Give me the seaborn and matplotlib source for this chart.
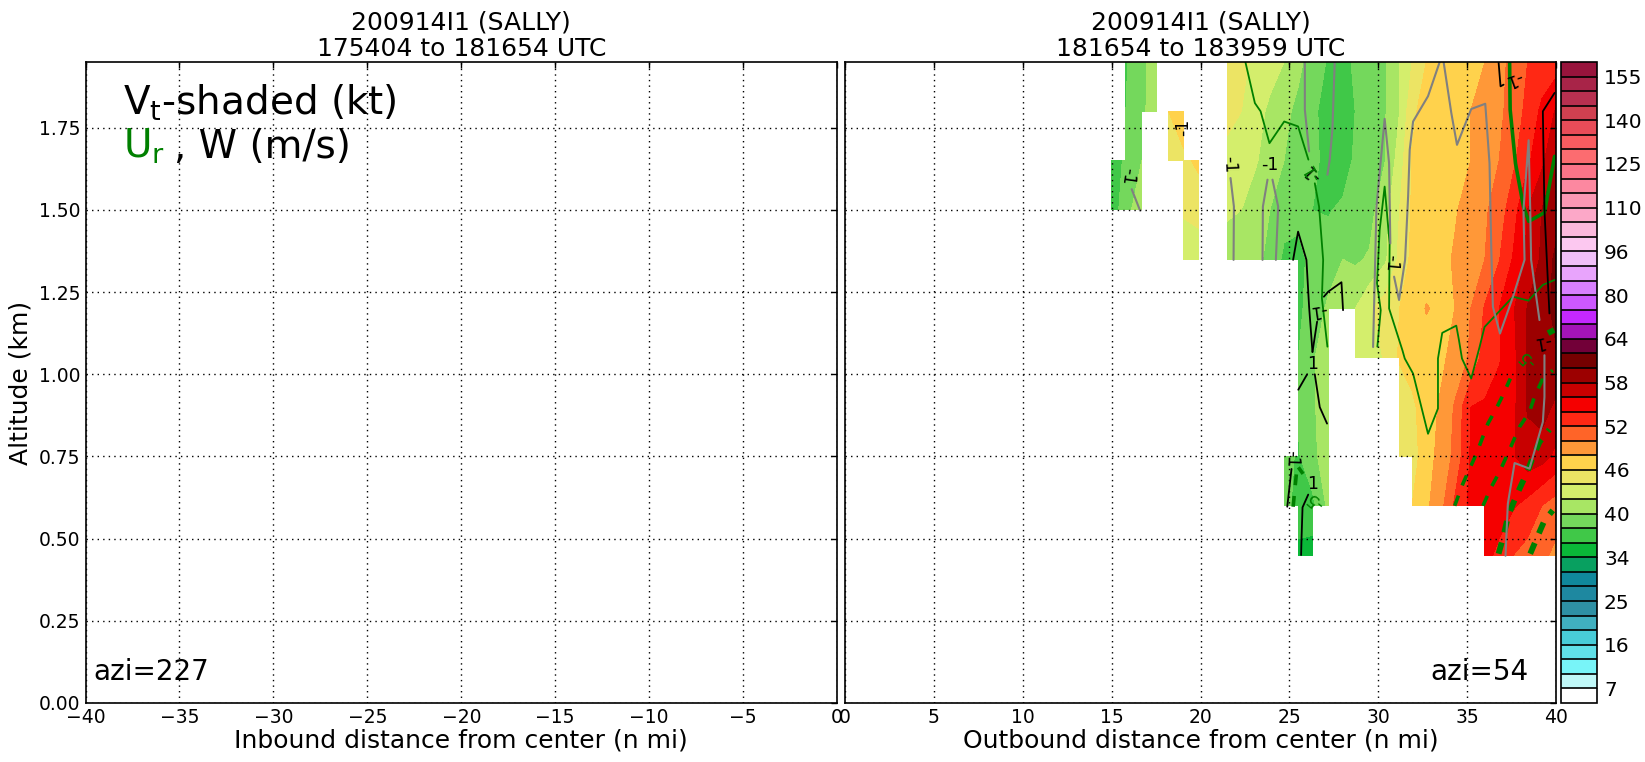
import matplotlib
matplotlib.use("Agg")
import matplotlib.pyplot as plt
import numpy as np
import seaborn as sns

n = np.nan

# distance (n mi) and altitude (km) of the Vt grid, outbound leg
dist = [15.0, 15.8, 16.7, 17.5, 18.2, 19.05, 19.9, 20.7, 21.5, 22.3, 23.1, 23.9, 24.7, 25.5, 26.3, 27.2,
        28.0, 28.7, 29.5, 30.4, 31.2, 31.9, 32.7, 33.5, 34.3, 35.2, 36.0, 36.8, 37.6, 38.4, 39.2, 40.0]
alt = [0.45, 0.60, 0.75, 0.90, 1.05, 1.20, 1.35, 1.50, 1.65, 1.80, 1.95]

# Vt (kt), one list per altitude
vt_045 = [n]*13 + [35.5, 35] + [n]*11 + [54.5, 53.6, 52, 51.3, 50.5, 49.5]
vt_060 = [n]*12 + [39, 37, 37.5, 40.5] + [n]*5 + [46, 47.6, 49.3, 52.3, 54.5, 55, 54.8, 54.2, 53.3, 52, 51]
vt_075 = [n]*12 + [38.5, 37.8, 39.3, 41.5] + [n]*4 + [44.1, 45, 47.2, 48.6, 50.5, 54.2, 55, 55.3, 55.8, 57.2, 56.8, 55.5]
vt_090 = [n]*13 + [38.2, 39.7, 41.2] + [n]*4 + [44.2, 45.5, 47.2, 48.2, 50.2, 54, 54.2, 55, 55.5, 58.2, 59, 57.5]
vt_105 = [n]*13 + [38, 39.8, 41, n, 42, 43, 44.2, 46.3, 47, 47.3, 47.6, 48.6, 50.3, 53, 53.8, 55.4, 58.3, 59.3, 59.8]
vt_120 = [n]*13 + [37.5, 39, 40.3, 41, 42, 43.7, 45, 46, 47, 48.1, 47.7, 48, 50, 52.2, 54, 55.8, 58.1, 59.3, 60.5]
vt_135 = [n]*5 + [43, 43, n, 41, 40.5, 40.2, 39.8, 37.5, 37.5, 38.5, 39.2, 40, 39.7, 40.2, 41.7, 44.5, 46.5, 47.2,
                  47.4, 48.2, 49.2, 50, 51.9, 54.2, 56.5, 58.3, 60.5]
vt_150 = [37, 39, 41.8, n, n, 44.2, 44.6, n, 42.3, 42, 41, 40, 39, 38.5, 38, 37.8, 38.5, 39, 39.3, 41.3, 44, 46.2,
          47, 47.2, 47.8, 48.8, 49.7, 51, 53.2, 56, 58, 59]
vt_165 = [36.5, 38.5, 40, n, 45, 45.5, 46.5, n, 43.5, 43, 42.2, 41, 40, 39, 38.3, 37.6, 36.5, 38.5, 39, 40, 43, 46.2,
          47, 47, 47.3, 48, 49, 50, 51.6, 53.6, 55.5, 58]
vt_180 = [n, 38, 39.6, 41, 46, 47.5, n, n, 44.5, 44, 43, 41.5, 40.5, 39.5, 38.5, 37, 37, 38, 39, 39.9, 42, 45.5,
          47, 47, 47.4, 48, 48.8, 49.6, 50.8, 52.6, 54.4, 56.2]
vt_195 = [n, 37.8, 39.5, 41, n, n, n, n, 45.5, 44.5, 43.5, 43, 42, 40.5, 39, 37.8, 37, 38.5, 39, 39.8, 42, 44,
          46, 47, 47, 47.5, 48, 49.5, 50.5, 52, 52.8, 53]

levels = [4, 7, 10, 13, 16, 19, 22, 25, 28, 31, 34, 36, 38, 40, 42, 44, 46, 48, 50, 52, 54, 56, 58, 60, 62, 64,
          69, 75, 80, 85, 91, 96, 101, 105, 110, 115, 120, 125, 130, 135, 140, 145, 150, 155, 160]
cbar_ticks = [7, 16, 25, 34, 40, 46, 52, 58, 64, 80, 96, 110, 125, 140, 155]
colors = ["#ffffff", "#c0f8f8", "#78f4f8", "#60e0e8", "#48ccd8", "#40b0c0", "#2e90a4", "#1e88a0", "#10889c",
          "#08a060", "#0ab838", "#40c848", "#74d85c", "#a8e664", "#d4ee6c", "#ece464", "#ffd24c", "#ff9838",
          "#ff6428", "#ff2814", "#f50000", "#c80000", "#9c0000", "#760000", "#720038", "#a414b8", "#c428ff",
          "#cc58ff", "#d880ff", "#e8a4fc", "#f0c0f8", "#fcc8f0", "#fcb8dc", "#fca8c8", "#fc98b4", "#fc88a0",
          "#fc7488", "#fc6c70", "#f85c60", "#e84c58", "#d04050", "#b83050", "#a82448", "#98143c"]

# Ur contours, thin solid
ur_thin = [
    ([22.53, 23.06, 23.38, 23.88, 24.71, 25.49, 26.07], [1.949, 1.825, 1.80, 1.703, 1.769, 1.754, 1.653]),
    ([26.43, 26.67, 26.90, 26.83, 27.14], [1.581, 1.510, 1.348, 1.231, 1.084]),
    ([29.95, 30.14, 29.93, 30.08, 30.36, 30.64, 30.61, 31.36, 31.49, 31.96, 32.8, 33.36, 33.36, 33.6, 34.39, 34.54,
      34.71, 35.23, 35.7, 35.98, 37.58, 38.45, 39.26, 39.92],
     [1.084, 1.195, 1.277, 1.439, 1.571, 1.398, 1.2, 1.073, 1.048, 1.002, 0.819, 0.896, 1.048, 1.126, 1.148, 1.104,
      1.048, 0.987, 1.083, 1.144, 1.236, 1.224, 1.272, 1.287]),
]
# Ur thick solid
ur_thick = [
    ([37.39, 37.42, 37.72, 38.17, 38.47, 39.35, 39.92], [1.949, 1.805, 1.642, 1.51, 1.465, 1.492, 1.663]),
]
# Ur dashed, thin dashes then wider dashes
ur_dash = [
    ([34.3, 34.76, 35.52, 36.17, 36.64, 37.01, 37.43], [0.6, 0.667, 0.758, 0.85, 0.896, 0.936, 0.987]),
    ([35.89, 36.36, 36.82, 37.2, 37.95, 38.5, 38.79, 39.26, 39.82],
     [0.6, 0.657, 0.703, 0.748, 0.84, 0.885, 0.931, 0.987, 1.012]),
    ([25.21, 25.44, 25.77], [0.597, 0.722, 0.697]),
]
ur_dash_wide = [
    ([36.77, 37.05, 37.29, 37.58, 37.95, 38.36, 38.7, 39.07, 39.63],
     [0.454, 0.509, 0.565, 0.606, 0.652, 0.7, 0.748, 0.794, 0.832]),
    ([38.55, 38.98, 39.35, 39.82], [0.454, 0.509, 0.555, 0.586]),
    ([39.55, 39.9], [1.125, 1.135]),
]
# W contours, positive black
w_pos = [
    ([25.21, 25.49, 25.96, 26.11, 26.3], [1.348, 1.434, 1.348, 1.205, 1.068]),
    ([26.3, 26.56], [1.068, 1.16]),
    ([26.94, 27.18, 27.93, 28.02], [1.236, 1.251, 1.28, 1.195]),
    ([26.0, 25.5], [1.0, 0.953]),
    ([26.43, 26.71, 27.12], [1.0, 0.90, 0.85]),
    ([25.12, 24.88], [0.712, 0.597]),
    ([26.06, 25.74, 25.68, 25.66], [0.634, 0.595, 0.494, 0.45]),
    ([36.77, 36.88, 37.05], [1.949, 1.876, 1.881]),
    ([39.92, 39.26, 39.35, 39.63], [1.856, 1.8, 1.5, 1.185]),
]
# W contours, negative gray
w_neg = [
    ([25.87, 25.87, 26.11], [1.949, 1.805, 1.678]),
    ([27.55, 27.42, 27.27, 27.14], [1.949, 1.744, 1.653, 1.607]),
    ([21.69, 21.88, 21.86], [1.597, 1.51, 1.348]),
    ([23.77, 23.51, 23.49], [1.592, 1.51, 1.348]),
    ([24.05, 24.37, 24.24], [1.592, 1.51, 1.348]),
    ([16.13, 16.6], [1.563, 1.498]),
    ([29.71, 29.9, 30.36, 30.61, 30.68], [1.083, 1.51, 1.777, 1.642, 1.398]),
    ([30.89, 31.17, 31.51, 31.68, 31.77, 31.96, 32.8, 33.45], [1.297, 1.226, 1.348, 1.541, 1.683, 1.769, 1.846, 1.949]),
    ([33.68, 34.11, 34.43, 35.23, 36.02, 36.26, 36.36, 36.45, 36.85, 37.58, 38.23, 38.17, 38.46, 38.55, 38.6, 39.07],
     [1.949, 1.795, 1.698, 1.807, 1.823, 1.642, 1.378, 1.205, 1.124, 1.236, 1.348, 1.5, 1.712, 1.5, 1.348, 1.165]),
    ([39.35, 39.35, 39.26, 38.51, 37.67, 37.29, 37.16], [1.058, 0.931, 0.855, 0.713, 0.73, 0.606, 0.448]),
]
# contour labels: x, y, text, rotation, colour
clabels = [
    (15.89, 1.602, "-1", 262, "k"), (19.02, 1.75, "-1", 90, "k"), (21.62, 1.637, "-1", 272, "k"),
    (23.9, 1.637, "-1", 0, "k"), (26.3, 1.615, "-1", 135, "k"), (26.3, 1.615, "-1", 120, "g"),
    (30.74, 1.338, "-1", 265, "k"), (26.62, 1.195, "-1", 188, "k"), (26.28, 1.03, "1", 0, "k"),
    (25.12, 0.743, "-1", 268, "k"), (26.28, 0.667, "1", 0, "k"), (26.43, 0.616, "-5", 140, "g"),
    (37.61, 1.898, "-1", 200, "k"), (39.26, 1.099, "-1", 190, "k"), (38.42, 1.048, "-5", 135, "g"),
]

W, H = 1645.0, 762.0


def px_axes(fig, x0, x1, y0, y1):
    return fig.add_axes([x0 / W, 1 - y1 / H, (x1 - x0) / W, (y1 - y0) / H])


def style_axes(ax):
    ax.set_ylim(0, 1.95)
    ax.set_yticks(np.arange(0, 2, 0.25))
    ax.grid(True, color="k", linestyle=(0, (1, 3)), linewidth=1)
    ax.set_axisbelow(False)
    ax.tick_params(direction="in", top=True, right=True, length=4, width=1, labelsize=13.5, color="k")
    for s in ax.spines.values():
        s.set_visible(True)
        s.set_color("k")
        s.set_linewidth(1.2)


sns.set_style("white")
plt.rcParams["font.family"] = ["DejaVu Sans"]
plt.rcParams["axes.unicode_minus"] = True
plt.rcParams["text.color"] = "k"
plt.rcParams["axes.labelcolor"] = "k"
plt.rcParams["xtick.color"] = "k"
plt.rcParams["ytick.color"] = "k"

fig = plt.figure(figsize=(16.45, 7.62), dpi=100)
ax1 = px_axes(fig, 85.5, 837, 62, 703)
ax2 = px_axes(fig, 845, 1556, 62, 703)
cax = px_axes(fig, 1561, 1597, 62, 703)

# inbound leg has no data
ax1.set_xlim(-40, 0)
ax1.set_xticks(np.arange(-40, 1, 5))
style_axes(ax1)
ax1.set_yticklabels(["%.2f" % v for v in np.arange(0, 2, 0.25)])
ax1.set_ylabel("Altitude (km)", fontsize=18, labelpad=5)
ax1.set_xlabel("Inbound distance from center (n mi)", fontsize=18, labelpad=1)
ax1.set_title("200914I1 (SALLY)\n175404 to 181654 UTC", fontsize=18, pad=4, linespacing=1.15, color="k")
ax1.text(0.05, 0.918, r"V$_{\mathrm{t}}$-shaded (kt)", transform=ax1.transAxes, fontsize=28, va="baseline")
ax1.text(0.05, 0.85, r"U$_{\mathrm{r}}$", color="g", transform=ax1.transAxes, fontsize=28, va="baseline")
ax1.text(0.118, 0.85, ", W (m/s)", transform=ax1.transAxes, fontsize=28, va="baseline")
ax1.text(0.011, 0.036, "azi=227", transform=ax1.transAxes, fontsize=20, va="baseline")

# outbound leg
vt = np.ma.masked_invalid(np.array([vt_045, vt_060, vt_075, vt_090, vt_105, vt_120, vt_135, vt_150, vt_165,
                                    vt_180, vt_195]))
cs = ax2.contourf(dist, alt, vt, levels=levels, colors=colors, antialiased=False, corner_mask=False)

for lx, ly in ur_thin:
    sns.lineplot(x=lx, y=ly, sort=False, estimator=None, color="g", linewidth=1.3, ax=ax2)
for lx, ly in ur_thick:
    sns.lineplot(x=lx, y=ly, sort=False, estimator=None, color="g", linewidth=2.6, ax=ax2)
for lx, ly in ur_dash:
    sns.lineplot(x=lx, y=ly, sort=False, estimator=None, color="g", linewidth=2.6, linestyle=(0, (3, 3)), ax=ax2)
for lx, ly in ur_dash_wide:
    sns.lineplot(x=lx, y=ly, sort=False, estimator=None, color="g", linewidth=4.2, linestyle=(0, (2, 1.8)), ax=ax2)
for lx, ly in w_pos:
    sns.lineplot(x=lx, y=ly, sort=False, estimator=None, color="k", linewidth=1.3, ax=ax2)
for lx, ly in w_neg:
    sns.lineplot(x=lx, y=ly, sort=False, estimator=None, color="gray", linewidth=1.5, ax=ax2)
for lx, ly, txt, rot, col in clabels:
    ax2.text(lx, ly, txt, rotation=rot, color=col, fontsize=12.5, ha="center", va="center", rotation_mode="anchor")

ax2.set_xlim(0, 40)
ax2.set_xticks(np.arange(0, 41, 5))
style_axes(ax2)
ax2.set_yticklabels([])
ax2.set_xlabel("Outbound distance from center (n mi)", fontsize=18, labelpad=1)
ax2.set_title("200914I1 (SALLY)\n181654 to 183959 UTC", fontsize=18, pad=4, linespacing=1.15, color="k")
ax2.text(0.824, 0.036, "azi=54", transform=ax2.transAxes, fontsize=20, va="baseline")

cb = fig.colorbar(cs, cax=cax, ticks=cbar_ticks, drawedges=True)
cb.dividers.set_color("k")
cb.dividers.set_linewidth(1.2)
cb.outline.set_edgecolor("k")
cb.outline.set_linewidth(1.2)
cb.ax.tick_params(labelsize=14.5, direction="in", length=3, pad=5, right=True)
cb.ax.set_yticklabels([str(t) for t in cbar_ticks])

fig.savefig("out.png", dpi=100)
